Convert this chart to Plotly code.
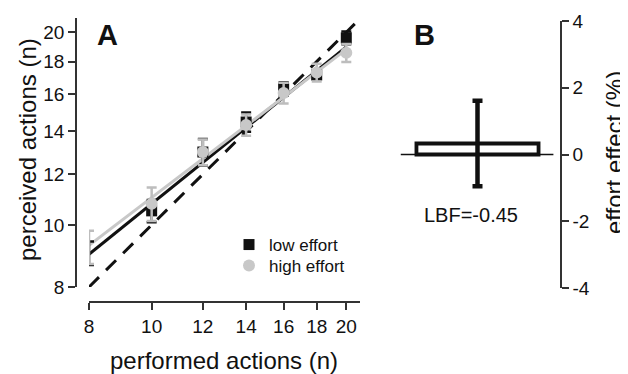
import math
import plotly.graph_objects as go

# ---- data ----
performed = [8, 10, 12, 14, 16, 18, 20]
low_mean = [9.04, 10.52, 13.0, 14.48, 16.31, 17.15, 19.6]
low_err = [0.38, 0.42, 0.62, 0.50, 0.40, 0.25, 0.45]
high_mean = [9.24, 10.79, 13.0, 14.33, 16.08, 17.3, 18.57]
high_err = [0.55, 0.65, 0.6, 0.55, 0.6, 0.55, 0.6]
fit_x = [8, 20]
fit_low = [9.0, 18.97]
fit_high = [9.29, 18.8]
identity = [8, 21]
tick_vals = [8, 10, 12, 14, 16, 18, 20]
tick_text = ["8", "10", "12", "14", "16", "18", "20"]

effect_value = [0.33]
effect_err = [1.28]
effect_ticks = [-4, -2, 0, 2, 4]
lbf_label = "LBF=-0.45"

# the page body has an 8px margin, so the figure is sized to the remaining area
OFF = 8
W, H = 628 - OFF, 374 - OFF
FONT = "Liberation Sans, Arial, Helvetica, sans-serif"
BLACK = "#111111"
GRAY = "#c8c8c8"
GRAY_ERR = "#bdbdbd"

def px(x):
    return (x - OFF) / W

def py(y):
    return 1 - (y - OFF) / H

fig = go.Figure()

# identity dashed line
fig.add_trace(go.Scatter(x=identity, y=identity, mode="lines",
                         line=dict(color=BLACK, width=3, dash="14px,10px"),
                         showlegend=False, hoverinfo="skip"))
# fitted lines
fig.add_trace(go.Scatter(x=fit_x, y=fit_low, mode="lines",
                         line=dict(color=BLACK, width=3),
                         showlegend=False, hoverinfo="skip"))
fig.add_trace(go.Scatter(x=fit_x, y=fit_high, mode="lines",
                         line=dict(color=GRAY, width=3),
                         showlegend=False, hoverinfo="skip"))
# points
fig.add_trace(go.Scatter(x=performed, y=low_mean, mode="markers", name="low effort",
                         marker=dict(symbol="square", size=11, color=BLACK),
                         error_y=dict(type="data", array=low_err, color=BLACK,
                                      thickness=2.5, width=5),
                         cliponaxis=False, legend="legend"))
fig.add_trace(go.Scatter(x=performed, y=high_mean, mode="markers", name="high effort",
                         marker=dict(symbol="circle", size=12, color=GRAY),
                         error_y=dict(type="data", array=high_err, color=GRAY_ERR,
                                      thickness=2.5, width=5),
                         cliponaxis=False, legend="legend2"))

# panel B
fig.add_trace(go.Bar(x=[0], y=effect_value, width=1.48, xaxis="x2", yaxis="y2",
                     marker=dict(color="white", line=dict(color=BLACK, width=3.8)),
                     error_y=dict(type="data", array=effect_err, color=BLACK,
                                  thickness=4.5, width=5),
                     showlegend=False, hoverinfo="skip"))

tickfont = dict(family=FONT, size=19, color=BLACK)
axis_common = dict(showgrid=False, zeroline=False, showline=True, automargin=False,
                   linecolor="#333333", linewidth=1.5,
                   ticks="outside", ticklen=7, tickwidth=1.5, tickcolor="#333333",
                   tickfont=tickfont)
legend_common = dict(xanchor="left", yanchor="middle",
                     font=dict(family=FONT, size=17, color=BLACK),
                     bgcolor="rgba(0,0,0,0)", borderwidth=0, itemwidth=30)

fig.update_layout(
    template="none",
    width=W, height=H,
    margin=dict(l=0, r=0, t=0, b=0, pad=0, autoexpand=False),
    paper_bgcolor="white", plot_bgcolor="white",
    font=dict(family=FONT, color=BLACK),
    showlegend=True,
    legend=dict(x=px(229), y=py(245), **legend_common),
    legend2=dict(x=px(229), y=py(266), **legend_common),
    xaxis=dict(type="log", domain=[px(89), px(360)],
               range=[math.log10(8), math.log10(21.0)],
               anchor="free", position=py(302),
               tickvals=tick_vals, ticktext=tick_text, **axis_common),
    yaxis=dict(type="log", domain=[py(287), py(18)],
               range=[math.log10(8), math.log10(21.05)],
               anchor="free", position=px(76),
               tickvals=tick_vals, ticktext=tick_text, **axis_common),
    xaxis2=dict(domain=[px(395), px(560)], range=[-1, 1], anchor="y2",
                visible=False),
    yaxis2=dict(domain=[py(288), py(21)], range=[-4, 4], anchor="x2", side="right",
                tickvals=effect_ticks, ticktext=[str(v) for v in effect_ticks],
                **axis_common),
    shapes=[dict(type="line", xref="x2", yref="y2", x0=-0.93, x1=0.92, y0=0, y1=0,
                 line=dict(color=BLACK, width=1.5), layer="below")],
    annotations=[
        dict(text="<b>A</b>", x=px(107), y=py(35), xref="paper", yref="paper",
             showarrow=False, font=dict(family=FONT, size=29, color=BLACK),
             xanchor="center", yanchor="middle"),
        dict(text="<b>B</b>", x=px(424), y=py(35), xref="paper", yref="paper",
             showarrow=False, font=dict(family=FONT, size=29, color=BLACK),
             xanchor="center", yanchor="middle"),
        dict(text="performed actions (n)", x=px(224), y=py(360), xref="paper", yref="paper",
             showarrow=False, font=dict(family=FONT, size=24, color=BLACK),
             xanchor="center", yanchor="middle"),
        dict(text="perceived actions (n)", x=px(27), y=py(150), xref="paper", yref="paper",
             showarrow=False, textangle=-90, font=dict(family=FONT, size=24, color=BLACK),
             xanchor="center", yanchor="middle"),
        dict(text="effort effect (%)", x=px(614), y=py(153), xref="paper", yref="paper",
             showarrow=False, textangle=-90, font=dict(family=FONT, size=24, color=BLACK),
             xanchor="center", yanchor="middle"),
        dict(text=lbf_label, x=-0.08, y=-1.8, xref="x2", yref="y2",
             showarrow=False, font=dict(family=FONT, size=20, color=BLACK),
             xanchor="center", yanchor="middle"),
    ],
)

fig.write_html("out.html")
